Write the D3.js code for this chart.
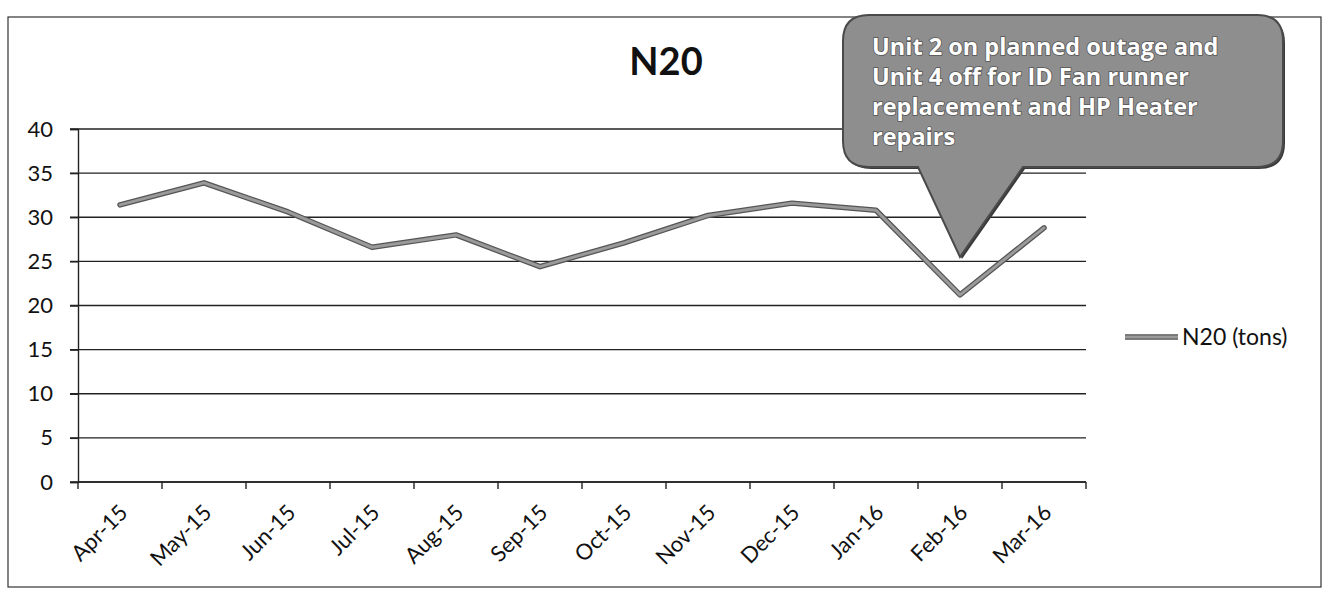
<!DOCTYPE html>
<html>
<head>
<meta charset="utf-8">
<script src="https://cdn.jsdelivr.net/npm/d3@7/dist/d3.min.js"></script>
<style>
  html, body { margin: 0; padding: 0; background: #fff; }
  svg { display: block; }
</style>
</head>
<body>
<svg id="chart" width="1328" height="593"></svg>
<script>
// ---- data ----
const months = ["Apr-15","May-15","Jun-15","Jul-15","Aug-15","Sep-15","Oct-15","Nov-15","Dec-15","Jan-16","Feb-16","Mar-16"];
const n20Tons = [31.4, 33.9, 30.6, 26.6, 28.0, 24.4, 27.1, 30.2, 31.6, 30.8, 21.2, 28.8];
const yTicks = [0, 5, 10, 15, 20, 25, 30, 35, 40];
const seriesName = "N20 (tons)";
const chartTitle = "N20";
const calloutLines = ["Unit 2 on planned outage and", "Unit 4 off for ID Fan runner", "replacement and HP Heater", "repairs"];
const calloutMonth = "Feb-16";
const calloutTipValue = 25.5;

// ---- layout ----
const svg = d3.select("#chart");
const font = "Lato, 'Liberation Sans', sans-serif";
const plot = { left: 78, right: 1086, top: 129, bottom: 482 };

const x = d3.scaleBand().domain(months).range([plot.left, plot.right]).paddingInner(0).paddingOuter(0);
const y = d3.scaleLinear().domain([0, 40]).range([plot.bottom, plot.top]);
const cx = d => x(d) + x.bandwidth() / 2;

// outer chart border
svg.append("rect")
  .attr("x", 8).attr("y", 17).attr("width", 1313).attr("height", 570)
  .attr("fill", "none").attr("stroke", "#333").attr("stroke-width", 1.2);

// title
svg.append("text")
  .attr("x", 666).attr("y", 75)
  .attr("text-anchor", "middle")
  .attr("font-family", font).attr("font-weight", "bold").attr("font-size", 38)
  .attr("fill", "#111")
  .text(chartTitle);

// gridlines
svg.append("g").selectAll("line").data(yTicks).join("line")
  .attr("x1", plot.left - 8).attr("x2", plot.right)
  .attr("y1", d => y(d)).attr("y2", d => y(d))
  .attr("stroke", "#222").attr("stroke-width", 1.4);

// y axis
const yAxis = svg.append("g")
  .attr("transform", `translate(${plot.left},0)`)
  .call(d3.axisLeft(y).tickValues(yTicks).tickSize(8).tickPadding(17));
yAxis.select(".domain").attr("stroke", "#222").attr("stroke-width", 1.4);
yAxis.selectAll(".tick line").attr("stroke", "#222").attr("stroke-width", 1.4);
yAxis.selectAll("text")
  .attr("font-family", font).attr("font-size", 22).attr("fill", "#111");

// x axis: ticks at category boundaries
const xAxis = svg.append("g").attr("transform", `translate(0,${plot.bottom})`);
xAxis.append("line")
  .attr("x1", plot.left).attr("x2", plot.right)
  .attr("stroke", "#222").attr("stroke-width", 1.4);
const boundaries = months.map(m => x(m)).concat([plot.right]);
xAxis.selectAll("line.tk").data(boundaries).join("line")
  .attr("class", "tk")
  .attr("x1", d => d).attr("x2", d => d)
  .attr("y1", 0).attr("y2", 7)
  .attr("stroke", "#222").attr("stroke-width", 1.4);
xAxis.selectAll("text").data(months).join("text")
  .attr("transform", d => `translate(${cx(d) + 9},${32}) rotate(-45)`)
  .attr("text-anchor", "end")
  .attr("font-family", font).attr("font-size", 22).attr("fill", "#111")
  .text(d => d);

// series line
const line = d3.line().x((d, i) => cx(months[i])).y(d => y(d));
svg.append("path").datum(n20Tons)
  .attr("d", line)
  .attr("fill", "none").attr("stroke", "#555").attr("stroke-width", 5.5)
  .attr("stroke-linejoin", "round").attr("stroke-linecap", "round");
svg.append("path").datum(n20Tons)
  .attr("d", line)
  .attr("fill", "none").attr("stroke", "#9a9a9a").attr("stroke-width", 3)
  .attr("stroke-linejoin", "round").attr("stroke-linecap", "round");

// legend
const lg = svg.append("g");
lg.append("line").attr("x1", 1125).attr("x2", 1178).attr("y1", 337).attr("y2", 337)
  .attr("stroke", "#555").attr("stroke-width", 5.5);
lg.append("line").attr("x1", 1125).attr("x2", 1178).attr("y1", 337).attr("y2", 337)
  .attr("stroke", "#9a9a9a").attr("stroke-width", 3);
lg.append("text").attr("x", 1182).attr("y", 345)
  .attr("font-family", font).attr("font-size", 23).attr("fill", "#111")
  .text(seriesName);

// callout
const box = { x0: 843, y0: 15, x1: 1283, y1: 167, r: 26 };
const tipX = cx(calloutMonth), tipY = y(calloutTipValue);
const baseL = 918, baseR = 1023;
const p = d3.path();
p.moveTo(box.x0 + box.r, box.y0);
p.lineTo(box.x1 - box.r, box.y0);
p.quadraticCurveTo(box.x1, box.y0, box.x1, box.y0 + box.r);
p.lineTo(box.x1, box.y1 - box.r);
p.quadraticCurveTo(box.x1, box.y1, box.x1 - box.r, box.y1);
p.lineTo(baseR, box.y1);
p.lineTo(tipX, tipY);
p.lineTo(baseL, box.y1);
p.lineTo(box.x0 + box.r, box.y1);
p.quadraticCurveTo(box.x0, box.y1, box.x0, box.y1 - box.r);
p.lineTo(box.x0, box.y0 + box.r);
p.quadraticCurveTo(box.x0, box.y0, box.x0 + box.r, box.y0);
p.closePath();
svg.append("path").attr("d", p.toString())
  .attr("transform", "translate(2,2)")
  .attr("fill", "#3a3a3a");
svg.append("path").attr("d", p.toString())
  .attr("fill", "#8e8e8e").attr("stroke", "#4a4a4a").attr("stroke-width", 2);

svg.append("g").selectAll("text").data(calloutLines).join("text")
  .attr("x", 872).attr("y", (d, i) => 55 + i * 30)
  .attr("font-family", "'Open Sans', Lato, sans-serif").attr("font-weight", "bold").attr("font-size", 23.5)
  .attr("fill", "#fff").attr("stroke", "#555").attr("stroke-width", 1.6)
  .attr("paint-order", "stroke")
  .text(d => d);
</script>
</body>
</html>
